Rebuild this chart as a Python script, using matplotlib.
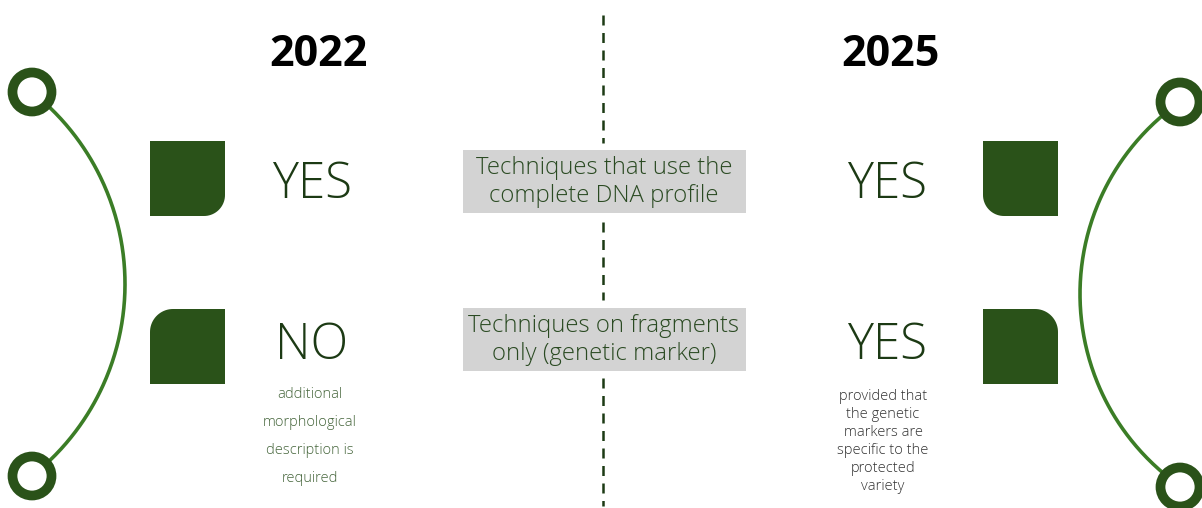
import matplotlib
matplotlib.use("Agg")
import matplotlib.pyplot as plt
import numpy as np
from matplotlib.patches import Polygon, Circle, Rectangle

# ---------------------------------------------------------------
# content
years = ["2022", "2025"]
techniques = ["Techniques that use the\ncomplete DNA profile",
              "Techniques on fragments\nonly (genetic marker)"]
answers_2022 = ["YES", "NO"]
answers_2025 = ["YES", "YES"]
note_2022 = ["additional", "morphological", "description is", "required"]
note_2025 = ["provided that", "the genetic", "markers are",
             "specific to the", "protected", "variety"]

# ---------------------------------------------------------------
# colours / layout
dark = "#2a5219"
arc_col = "#3b7d26"
text_green = "#1c3a14"
box_grey = "#d3d3d3"

plt.rcParams["font.family"] = ["Open Sans", "DejaVu Sans"]

fig = plt.figure(figsize=(12.02, 5.08), dpi=100)
ax = fig.add_axes([0, 0, 1, 1])
ax.set_xlim(0, 1202)
ax.set_ylim(508, 0)
ax.axis("off")


def rounded_square(x0, y0, size, corner, r):
    # square with one rounded corner: corner in 'tl','tr','bl','br' (y down)
    pts = []
    cs = {"tl": (x0, y0), "tr": (x0 + size, y0),
          "br": (x0 + size, y0 + size), "bl": (x0, y0 + size)}
    for name in ["tl", "tr", "br", "bl"]:
        cx, cy = cs[name]
        if name != corner:
            pts.append((cx, cy))
            continue
        sx = 1 if name in ("tl", "bl") else -1
        sy = 1 if name in ("tl", "tr") else -1
        ccx, ccy = cx + sx * r, cy + sy * r
        start = {"tl": np.pi, "tr": 1.5 * np.pi, "br": 0.0, "bl": 0.5 * np.pi}[name]
        t = np.linspace(start, start + 0.5 * np.pi, 20)
        for a in t:
            pts.append((ccx + r * np.cos(a), ccy + r * np.sin(a)))
    ax.add_patch(Polygon(pts, closed=True, facecolor=dark, edgecolor="none"))


def arc(cx, cy, R, y_top, y_bot, side):
    ys = np.linspace(y_top, y_bot, 200)
    xs = cx + side * np.sqrt(np.maximum(R**2 - (ys - cy) ** 2, 0))
    ax.plot(xs, ys, color=arc_col, lw=2.6, solid_capstyle="butt", zorder=1)


def ring(x, y):
    ax.add_patch(Circle((x, y), 19.5, facecolor="white", edgecolor=dark,
                        lw=7, zorder=3))


# side arcs with rings
arc(-119.7, 284, 244.7, 92, 476, 1)
ring(32, 92)
ring(32, 476)
arc(1314.3, 294, 234.3, 102, 487, -1)
ring(1180, 102)
ring(1180, 487)

# squares
rounded_square(150, 141, 75, "br", 21)
rounded_square(150, 309, 75, "tl", 23)
rounded_square(983, 141, 75, "bl", 21)
rounded_square(983, 309, 75, "tr", 23)

# central dashed divider
for y0, y1 in [(15, 143), (222, 300), (378, 506)]:
    ax.plot([603, 603], [y0, y1], color=text_green, lw=1.8,
            linestyle=(0, (4, 3)), zorder=1)

# year headers
ax.text(319, 54, years[0], ha="center", va="center", fontsize=31,
        fontweight="bold", color="black")
ax.text(891, 54, years[1], ha="center", va="center", fontsize=31,
        fontweight="bold", color="black")

# technique boxes
box_y = [181, 339]
for ty, label in zip(box_y, techniques):
    ax.add_patch(Rectangle((463, ty - 31.5), 283, 63, facecolor=box_grey,
                           edgecolor="none", zorder=2))
    ax.text(604, ty + 1, label, ha="center", va="center", fontsize=17.2,
            fontweight="light", color="#2a4a22", linespacing=1.22, zorder=3)

# answers
ans_y = [185, 346]
for ty, a in zip(ans_y, answers_2022):
    ax.text(312, ty, a, ha="center", va="center", fontsize=35.5,
            fontweight="light", color=text_green)
for ty, a in zip(ans_y, answers_2025):
    ax.text(887, ty, a, ha="center", va="center", fontsize=35.5,
            fontweight="light", color=text_green)

# notes
for i, line in enumerate(note_2022):
    ax.text(310, 395 + i * 28, line, ha="center", va="center", fontsize=10.5,
            fontweight="light", color="#46663c")
for i, line in enumerate(note_2025):
    ax.text(883, 397 + i * 17.8, line, ha="center", va="center", fontsize=10.5,
            fontweight="light", color="#333333")

fig.savefig("out.png", dpi=100)
